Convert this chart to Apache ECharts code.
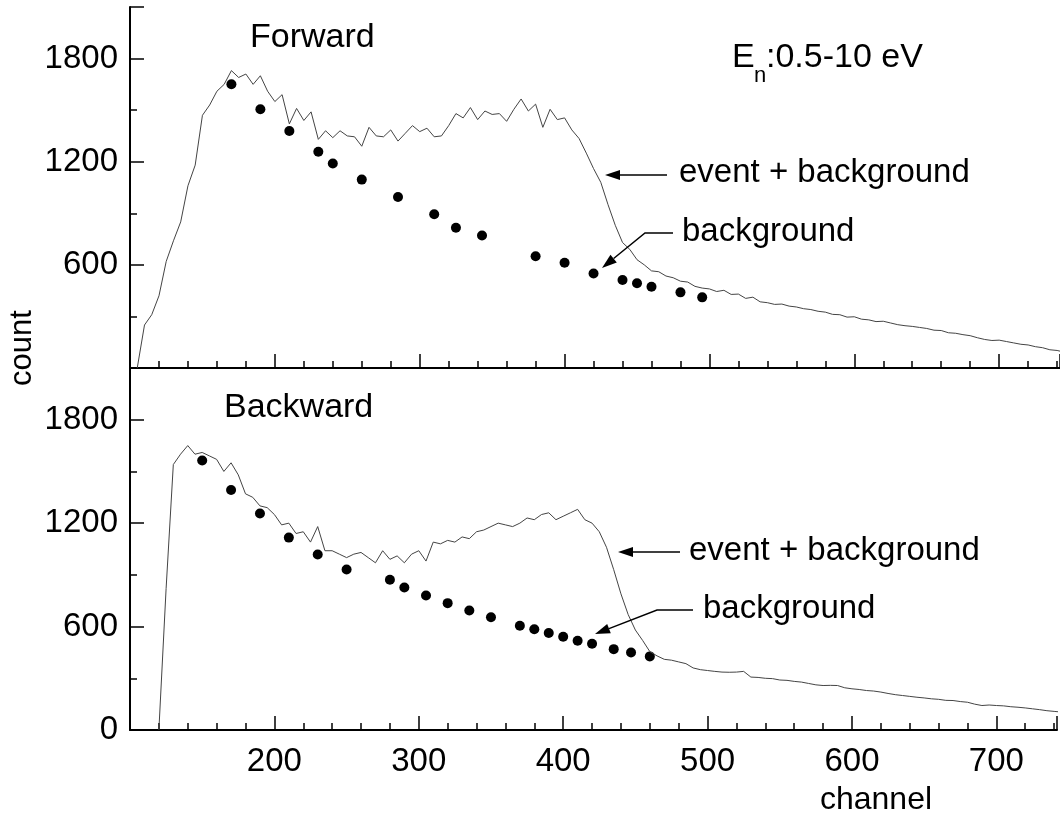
<!DOCTYPE html>
<html>
<head>
<meta charset="utf-8">
<script src="https://cdn.jsdelivr.net/npm/echarts@6/dist/echarts.min.js"></script>
<style>
html, body { margin: 0; padding: 0; background: #fff; }
#graph { width: 1060px; height: 822px; }
</style>
</head>
<body>
<div id="graph"></div>
<script>
// channel grid of the two spectra
var channels = [
  105, 110, 115, 120, 125, 130, 135, 140, 145, 150,
  155, 160, 165, 170, 175, 180, 185, 190, 195, 200,
  205, 210, 215, 220, 225, 230, 235, 240, 245, 250,
  255, 260, 265, 270, 275, 280, 285, 290, 295, 300,
  305, 310, 315, 320, 325, 330, 335, 340, 345, 350,
  355, 360, 365, 370, 375, 380, 385, 390, 395, 400,
  405, 410, 415, 420, 425, 430, 435, 440, 445, 450,
  455, 460, 465, 470, 475, 480, 485, 490, 495, 500,
  505, 510, 515, 520, 525, 530, 535, 540, 545, 550,
  555, 560, 565, 570, 575, 580, 585, 590, 595, 600,
  605, 610, 615, 620, 625, 630, 635, 640, 645, 650,
  655, 660, 665, 670, 675, 680, 685, 690, 695, 700,
  705, 710, 715, 720, 725, 730, 735, 740, 745
];

// event + background, forward
var forwardCounts = [
  0, 250, 310, 420, 620, 740, 850, 1060, 1180, 1470,
  1530, 1610, 1650, 1730, 1690, 1710, 1650, 1700, 1610, 1550,
  1590, 1420, 1510, 1440, 1490, 1330, 1380, 1340, 1380, 1350,
  1345, 1290, 1400, 1350, 1345, 1385, 1320, 1365, 1410, 1375,
  1395, 1345, 1350, 1410, 1480, 1455, 1515, 1445, 1495, 1475,
  1480, 1435, 1505, 1565, 1495, 1535, 1400, 1505, 1445, 1455,
  1385, 1335, 1250, 1160, 1080, 950, 830, 730, 690, 630,
  600, 565, 560, 535, 525, 505, 500, 475, 465, 460,
  445, 452, 428, 430, 405, 412, 385, 380, 370, 372,
  360, 355, 345, 340, 330, 325, 312, 310, 296, 298,
  284, 280, 270, 272, 262, 252, 246, 242, 236, 230,
  220, 218, 205, 202, 194, 188, 176, 166, 160, 162,
  154, 146, 138, 134, 124, 118, 106, 102, 92
];

// event + background, backward
var backwardCounts = [
  null, null, null, 0, 820, 1540, 1600, 1650, 1600, 1610,
  1590, 1570, 1500, 1550, 1480, 1370, 1350, 1300, 1290, 1250,
  1190, 1200, 1140, 1150, 1090, 1180, 1040, 1040, 1020, 1000,
  1020, 1030, 1000, 970, 1040, 990, 1010, 970, 1020, 1040,
  980, 1090, 1080, 1100, 1090, 1120, 1110, 1150, 1160, 1180,
  1200, 1190, 1180, 1200, 1230, 1220, 1250, 1260, 1220, 1240,
  1260, 1280, 1220, 1200, 1150, 1060, 930, 790, 670, 580,
  520, 455, 430, 410, 405, 395, 385, 360, 350, 345,
  340, 336, 335, 336, 340, 307, 305, 300, 298, 290,
  288, 282, 278, 270, 262, 258, 259, 258, 245, 239,
  235, 229, 226, 220, 212, 205, 200, 195, 190, 186,
  181, 178, 172, 171, 165, 161, 150, 142, 145, 142,
  140, 135, 132, 128, 123, 118, 112, 108, 104
];

// background points
var forwardBgChannels = [170, 190, 210, 230, 240, 260, 285, 310, 325, 343, 380, 400, 420, 440, 450, 460, 480, 495];
var forwardBgCounts = [1651, 1505, 1379, 1258, 1190, 1096, 995, 894, 816, 771, 650, 612, 550, 512, 493, 473, 440, 411];
var backwardBgChannels = [150, 170, 190, 210, 230, 250, 280, 290, 305, 320, 335, 350, 370, 380, 390, 400, 410, 420, 435, 447, 460];
var backwardBgCounts = [1563, 1392, 1256, 1116, 1018, 931, 872, 827, 780, 736, 693, 654, 605, 584, 563, 541, 518, 500, 469, 450, 427];

var xTickLabels = [200, 300, 400, 500, 600, 700];
var topYTickLabels = [600, 1200, 1800];
var bottomYTickLabels = [0, 600, 1200, 1800];

var FONT = "'Liberation Sans', Arial, sans-serif";
var X_MIN = 100, X_MAX = 742;
var AXIS_LINE = { show: true, lineStyle: { color: '#000', width: 2 } };

function pairs(xs, ys) {
  return xs.map(function (x, i) { return [x, ys[i]]; });
}

function xAxisFor(gridIndex, labels) {
  return {
    type: 'value', gridIndex: gridIndex, position: 'bottom', min: X_MIN, max: X_MAX, interval: 100,
    axisLine: AXIS_LINE,
    axisTick: { show: true, inside: true, length: 14, lineStyle: { color: '#000', width: 1.5 } },
    splitLine: { show: false },
    axisLabel: {
      show: labels.length > 0, margin: 15, color: '#000', fontSize: 33, fontFamily: FONT,
      formatter: function (v) { return labels.indexOf(v) >= 0 ? String(v) : ''; }
    }
  };
}

// minor ticks every 20 channels, no line, no labels
function xMinorFor(gridIndex) {
  return {
    type: 'value', gridIndex: gridIndex, position: 'bottom', min: X_MIN, max: X_MAX, interval: 20,
    axisLine: { show: false },
    axisTick: { show: true, inside: true, length: 7, lineStyle: { color: '#000', width: 1.5 } },
    splitLine: { show: false },
    axisLabel: { show: false }
  };
}

function yAxisFor(gridIndex, labels) {
  return {
    type: 'value', gridIndex: gridIndex, position: 'left', min: 0, max: 2100, interval: 600,
    axisLine: AXIS_LINE,
    axisTick: { show: true, inside: true, length: 14, lineStyle: { color: '#000', width: 1.5 } },
    splitLine: { show: false },
    axisLabel: {
      margin: 12, color: '#000', fontSize: 33, fontFamily: FONT,
      formatter: function (v) { return labels.indexOf(v) >= 0 ? String(v) : ''; }
    }
  };
}

function yMinorFor(gridIndex) {
  return {
    type: 'value', gridIndex: gridIndex, position: 'left', min: 0, max: 2100, interval: 300,
    axisLine: { show: false },
    axisTick: { show: true, inside: true, length: 7, lineStyle: { color: '#000', width: 1.5 } },
    splitLine: { show: false },
    axisLabel: { show: false }
  };
}

function text(str, x, y, size, align, extra) {
  var el = {
    type: 'text', x: x, y: y, z: 100,
    style: {
      text: str, font: size + 'px ' + FONT, fill: '#000',
      align: align, textAlign: align, verticalAlign: 'middle', textVerticalAlign: 'middle'
    }
  };
  if (extra) { for (var k in extra) el[k] = extra[k]; }
  return el;
}

function arrow(points) {
  // polyline ending in a filled head at the last point
  var n = points.length;
  var tip = points[n - 1], from = points[n - 2];
  var dx = tip[0] - from[0], dy = tip[1] - from[1];
  var len = Math.sqrt(dx * dx + dy * dy);
  var ux = dx / len, uy = dy / len;
  var bx = tip[0] - ux * 15, by = tip[1] - uy * 15;
  var px = -uy * 5, py = ux * 5;
  return [
    { type: 'polyline', z: 100, shape: { points: points.slice(0, n - 1).concat([[bx, by]]) },
      style: { stroke: '#000', lineWidth: 1.5, fill: null } },
    { type: 'polygon', z: 100, shape: { points: [tip, [bx + px, by + py], [bx - px, by - py]] },
      style: { fill: '#000' } }
  ];
}

var chartDom = document.getElementById('graph');
var myChart = echarts.init(chartDom);

var graphics = [
  text('Forward', 250, 38, 34, 'left'),
  text('Backward', 224, 408, 34, 'left'),
  text('E', 732, 58, 34, 'left'),
  text('n', 754, 76, 22, 'left'),
  text(':0.5-10 eV', 766, 58, 34, 'left'),
  text('event + background', 679, 173, 33, 'left'),
  text('background', 682, 232, 33, 'left'),
  text('event + background', 689, 551, 33, 'left'),
  text('background', 703, 609, 33, 'left'),
  text('channel', 876, 800, 32, 'center'),
  text('count', 22, 348, 31, 'center', { rotation: Math.PI / 2 })
].concat(
  arrow([[667, 175], [605, 175]]),
  arrow([[673, 233], [645, 233], [602, 268]]),
  arrow([[680, 552], [618, 552]]),
  arrow([[693, 610], [657, 610], [595, 634]])
);

var option = {
  animation: false,
  backgroundColor: '#fff',
  grid: [
    { left: 130, top: 7, right: 0, height: 361 },
    { left: 130, top: 368, right: 0, height: 362 }
  ],
  xAxis: [
    xAxisFor(0, []),
    xAxisFor(1, xTickLabels),
    { type: 'value', gridIndex: 0, position: 'top', min: X_MIN, max: X_MAX,
      axisLine: AXIS_LINE, axisTick: { show: false }, axisLabel: { show: false }, splitLine: { show: false } },
    xMinorFor(0),
    xMinorFor(1)
  ],
  yAxis: [yAxisFor(0, topYTickLabels), yMinorFor(0), yAxisFor(1, bottomYTickLabels), yMinorFor(1)],
  series: [
    {
      type: 'line', xAxisIndex: 0, yAxisIndex: 0, showSymbol: false,
      data: pairs(channels, forwardCounts),
      lineStyle: { color: '#444', width: 1 }
    },
    {
      type: 'scatter', xAxisIndex: 0, yAxisIndex: 0, symbolSize: 10,
      data: pairs(forwardBgChannels, forwardBgCounts),
      itemStyle: { color: '#000', opacity: 1 }
    },
    {
      type: 'line', xAxisIndex: 1, yAxisIndex: 2, showSymbol: false,
      data: pairs(channels, backwardCounts),
      lineStyle: { color: '#444', width: 1 }
    },
    {
      type: 'scatter', xAxisIndex: 1, yAxisIndex: 2, symbolSize: 10,
      data: pairs(backwardBgChannels, backwardBgCounts),
      itemStyle: { color: '#000', opacity: 1 }
    }
  ],
  graphic: graphics
};

option && myChart.setOption(option);
</script>
</body>
</html>
